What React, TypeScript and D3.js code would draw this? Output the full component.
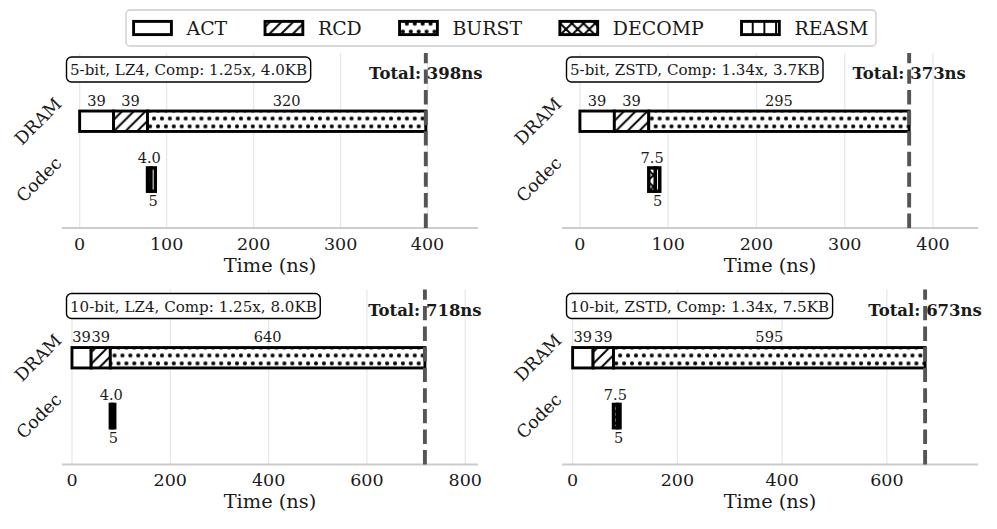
import React, { useEffect, useRef } from 'react';
import * as d3 from 'd3';

// legend / segment names
const segmentNames = ['ACT', 'RCD', 'BURST', 'DECOMP', 'REASM'];
const rowNames = ['DRAM', 'Codec'];

// one entry per panel (TL, TR, BL, BR)
const panelLabels = [
  '5-bit, LZ4, Comp: 1.25x, 4.0KB',
  '5-bit, ZSTD, Comp: 1.34x, 3.7KB',
  '10-bit, LZ4, Comp: 1.25x, 8.0KB',
  '10-bit, ZSTD, Comp: 1.34x, 7.5KB',
];
const actNs = [39, 39, 39, 39];
const rcdNs = [39, 39, 39, 39];
const burstNs = [320, 295, 640, 595];
const decompNs = [4.0, 7.5, 4.0, 7.5];
const reasmNs = [5, 5, 5, 5];
const xMaxNs = [458, 451, 826, 774];
const xTickValues = [
  [0, 100, 200, 300, 400],
  [0, 100, 200, 300, 400],
  [0, 200, 400, 600, 800],
  [0, 200, 400, 600],
];

const W = 997;
const H = 529;
const FONT = '"DejaVu Serif", serif';

const App = () => {
  const svgRef = useRef(null);

  useEffect(() => {
    const svg = d3.select(svgRef.current);
    svg.selectAll('*').remove();
    svg.append('rect').attr('width', W).attr('height', H).attr('fill', 'white');

    // hatch patterns (matplotlib-like: '', '//', '...', 'xx', '||')
    const defs = svg.append('defs');
    const hs = 11.67;
    const hw = 1.9;
    const mkPattern = (id, w, h) => {
      const p = defs.append('pattern')
        .attr('id', id)
        .attr('patternUnits', 'userSpaceOnUse')
        .attr('width', w)
        .attr('height', h);
      p.append('rect').attr('width', w).attr('height', h).attr('fill', 'white');
      return p;
    };
    const diagNE = `M${-hs / 2},${hs / 2}L${hs / 2},${-hs / 2}M0,${hs}L${hs},0M${hs / 2},${hs * 1.5}L${hs * 1.5},${hs / 2}`;
    const diagNW = `M${hs / 2},${-hs / 2}L${hs * 1.5},${hs / 2}M0,0L${hs},${hs}M${-hs / 2},${hs / 2}L${hs / 2},${hs * 1.5}`;
    mkPattern('h-rcd', hs, hs).append('path').attr('d', diagNE)
      .attr('stroke', 'black').attr('stroke-width', hw);
    const ds = 7.9;
    const dots = mkPattern('h-burst', ds, ds * 2);
    [[0, 0], [ds, 0], [0, ds * 2], [ds, ds * 2], [ds / 2, ds]].forEach(([cx, cy]) => {
      dots.append('circle').attr('cx', cx).attr('cy', cy).attr('r', 2.05).attr('fill', 'black');
    });
    const xx = mkPattern('h-decomp', hs, hs);
    xx.append('path').attr('d', diagNE + diagNW).attr('stroke', 'black').attr('stroke-width', hw);
    mkPattern('h-reasm', hs, hs).append('path').attr('d', `M${hs / 2},0V${hs}`)
      .attr('stroke', 'black').attr('stroke-width', hw);
    const fills = ['white', 'url(#h-rcd)', 'url(#h-burst)', 'url(#h-decomp)', 'url(#h-reasm)'];

    // legend
    const lf = 18.9;
    const handleW = 2.0 * lf;
    const handleH = 0.7 * lf;
    const textPad = 0.8 * lf;
    const colSpace = 2.0 * lf;
    const borderPad = 0.4 * lf;
    const lg = svg.append('g');
    const measured = segmentNames.map(name => {
      const t = lg.append('text').attr('font-family', FONT).attr('font-size', lf).text(name);
      const w = t.node().getComputedTextLength();
      t.remove();
      return w;
    });
    const legW = 2 * borderPad + d3.sum(measured) + segmentNames.length * (handleW + textPad)
      + (segmentNames.length - 1) * colSpace;
    const legCx = 501;
    const legY0 = 10;
    const legH = 36;
    const rowCy = legY0 + legH / 2;
    lg.append('rect')
      .attr('x', legCx - legW / 2).attr('y', legY0)
      .attr('width', legW).attr('height', legH)
      .attr('rx', 4).attr('fill', 'white')
      .attr('stroke', '#cccccc').attr('stroke-width', 1.3);
    let cursor = legCx - legW / 2 + borderPad;
    segmentNames.forEach((name, i) => {
      lg.append('rect')
        .attr('x', cursor).attr('y', rowCy - handleH / 2)
        .attr('width', handleW).attr('height', handleH)
        .attr('fill', fills[i]).attr('stroke', 'black').attr('stroke-width', 2.9);
      lg.append('text')
        .attr('x', cursor + handleW + textPad).attr('y', rowCy + 7)
        .attr('font-family', FONT).attr('font-size', lf).attr('fill', '#1a1a1a')
        .text(name);
      cursor += handleW + textPad + measured[i] + colSpace;
    });

    // panels
    const panelLeft = [62, 562, 62, 562];
    const panelSpine = [228, 228, 464.5, 464.5];
    const plotW = 416;
    const plotH = 175;

    panelLabels.forEach((label, p) => {
      const left = panelLeft[p];
      const spine = panelSpine[p];
      const top = spine - plotH;
      const x = d3.scaleLinear().domain([-20.3, xMaxNs[p]]).range([left, left + plotW]);
      const y = d3.scaleLinear().domain([-0.83, 2.17]).range([spine, top]);
      const unit = Math.abs(y(1) - y(0));
      const g = svg.append('g');

      // grid
      g.selectAll('line.grid').data(xTickValues[p]).enter().append('line')
        .attr('x1', d => x(d)).attr('x2', d => x(d))
        .attr('y1', spine).attr('y2', top)
        .attr('stroke', '#e8e8e8').attr('stroke-width', 1.3);

      // spine + tick labels
      g.append('line').attr('x1', left).attr('x2', left + plotW)
        .attr('y1', spine).attr('y2', spine)
        .attr('stroke', '#cccccc').attr('stroke-width', 1.8);
      g.selectAll('text.tick').data(xTickValues[p]).enter().append('text')
        .attr('x', d => x(d)).attr('y', spine + 21.5)
        .attr('text-anchor', 'middle')
        .attr('font-family', FONT).attr('font-size', 17.5).attr('fill', '#1a1a1a')
        .text(d => d3.format('d')(d));
      g.append('text')
        .attr('x', left + plotW / 2).attr('y', spine + 43.5)
        .attr('text-anchor', 'middle')
        .attr('font-family', FONT).attr('font-size', 19.4).attr('fill', '#1a1a1a')
        .text('Time (ns)');

      // y labels (rotated 45)
      rowNames.forEach((name, r) => {
        const ty = y(r === 0 ? 1 : 0);
        const t = g.append('text')
          .attr('font-family', FONT).attr('font-size', 17.5).attr('fill', '#1a1a1a')
          .attr('text-anchor', 'end').attr('dominant-baseline', 'central')
          .text(name);
        const L = t.node().getComputedTextLength();
        t.attr('transform', `translate(${left - 3.5},${ty - 0.354 * L}) rotate(-45)`);
      });

      // DRAM segments
      const dramVals = [actNs[p], rcdNs[p], burstNs[p]];
      const dramStarts = [0, actNs[p], actNs[p] + rcdNs[p]];
      const dramH = 0.35 * unit;
      const dramTop = y(1) - dramH / 2;
      dramVals.forEach((v, i) => {
        g.append('rect')
          .attr('x', x(dramStarts[i])).attr('y', dramTop)
          .attr('width', x(dramStarts[i] + v) - x(dramStarts[i])).attr('height', dramH)
          .attr('fill', fills[i]).attr('stroke', 'black').attr('stroke-width', 2.9);
        g.append('text')
          .attr('x', x(dramStarts[i] + v / 2)).attr('y', dramTop - 5.5)
          .attr('text-anchor', 'middle')
          .attr('font-family', FONT).attr('font-size', 14.6).attr('fill', '#1a1a1a')
          .text(d3.format('d')(v));
      });

      // Codec segments
      const cStart = actNs[p] + rcdNs[p];
      const codecH = 0.4 * unit;
      const codecTop = y(0) - codecH / 2;
      const codecVals = [decompNs[p], reasmNs[p]];
      const codecStarts = [cStart, cStart + decompNs[p]];
      codecVals.forEach((v, i) => {
        g.append('rect')
          .attr('x', x(codecStarts[i])).attr('y', codecTop)
          .attr('width', x(codecStarts[i] + v) - x(codecStarts[i])).attr('height', codecH)
          .attr('fill', fills[3 + i]).attr('stroke', 'black').attr('stroke-width', 3.4);
      });
      g.append('text')
        .attr('x', x(codecStarts[0] + codecVals[0] / 2)).attr('y', codecTop - 4.5)
        .attr('text-anchor', 'middle')
        .attr('font-family', FONT).attr('font-size', 14.6).attr('fill', '#1a1a1a')
        .text(d3.format('.1f')(codecVals[0]));
      g.append('text')
        .attr('x', x(codecStarts[1] + codecVals[1] / 2)).attr('y', codecTop + codecH + 15)
        .attr('text-anchor', 'middle')
        .attr('font-family', FONT).attr('font-size', 14.6).attr('fill', '#1a1a1a')
        .text(d3.format('d')(codecVals[1]));

      // total marker
      const total = actNs[p] + rcdNs[p] + burstNs[p];
      g.append('line')
        .attr('x1', x(total)).attr('x2', x(total))
        .attr('y1', spine).attr('y2', top)
        .attr('stroke', '#555555').attr('stroke-width', 3.9)
        .attr('stroke-dasharray', '14.4,6.2');
      g.append('text')
        .attr('x', x(total)).attr('y', top + 26)
        .attr('text-anchor', 'middle')
        .attr('font-family', FONT).attr('font-size', 16.5).attr('font-weight', 'bold')
        .attr('fill', '#1a1a1a')
        .text(`Total: ${total}ns`);

      // config annotation box
      const tx = left + 8;
      const ann = g.append('text')
        .attr('x', tx).attr('y', top + 22.3)
        .attr('font-family', FONT).attr('font-size', 15.1).attr('fill', '#1a1a1a')
        .text(label);
      const aw = ann.node().getComputedTextLength();
      g.insert('rect', function () { return ann.node(); })
        .attr('x', tx - 3.5).attr('y', top + 4)
        .attr('width', aw + 7).attr('height', 25)
        .attr('rx', 5).attr('fill', 'white')
        .attr('stroke', 'black').attr('stroke-width', 1.4);
    });
  }, []);

  return (
    <svg
      ref={svgRef}
      width={W}
      height={H}
      style={{ position: 'absolute', left: 0, top: 0, display: 'block' }}
    />
  );
};

export default App;
